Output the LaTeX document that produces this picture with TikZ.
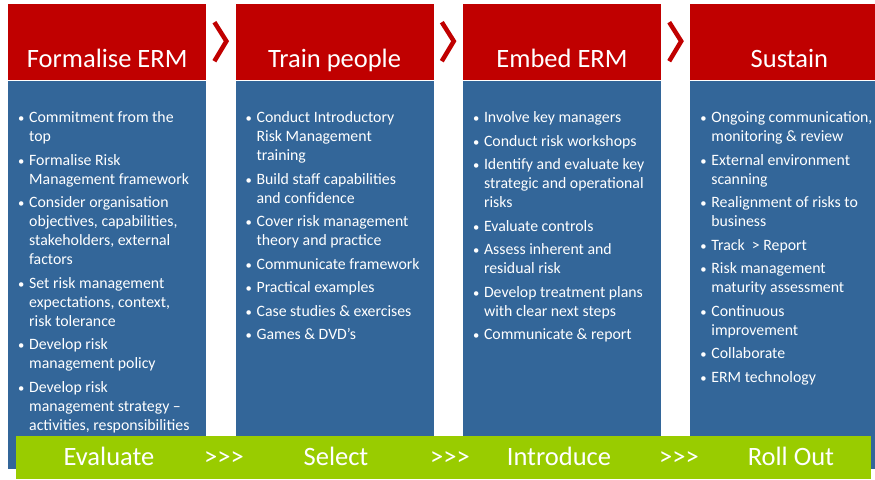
\documentclass[tikz,border=0pt]{standalone}
\usepackage{fontspec}
\setmainfont{Carlito}
\usetikzlibrary{positioning,calc}

\definecolor{hdred}{HTML}{C00000}
\definecolor{bdblue}{HTML}{336699}
\definecolor{bargreen}{HTML}{99CC00}

\newcommand{\bul}{\strut\makebox[12pt][l]{\hspace{1pt}\scalebox{0.8}{\textbullet}}}
\newcommand{\ind}{\strut\makebox[12pt]{}}

\begin{document}
\begin{tikzpicture}[x=1pt,y=1pt,node distance=29pt,
    head/.style={fill=hdred,minimum width=198pt,minimum height=76pt,inner sep=0pt},
    body/.style={fill=bdblue,minimum width=198pt,minimum height=388pt,inner sep=0pt},
    title/.style={white,font=\fontsize{26.5}{30}\selectfont,anchor=base,inner sep=0pt},
    items/.style={white,font=\fontsize{15.8}{19}\selectfont,align=left,anchor=north west,inner sep=0pt},
    stage/.style={white,font=\fontsize{26.5}{30}\selectfont,anchor=base,inner sep=0pt},
    chev/.style={hdred,line width=4.5pt,miter limit=10}]
  \useasboundingbox (0,0) rectangle (875,479);

  \node[head,anchor=north west] (head1) at (8,475) {};
  \node[head] (head2) [right=of head1] {};
  \node[head] (head3) [right=of head2] {};
  \node[head] (head4) [right=of head3] {};

  \node[body,below=0pt of head1] (body1) {};
  \node[body,below=0pt of head2] (body2) {};
  \node[body,below=0pt of head3] (body3) {};
  \node[body,below=0pt of head4] (body4) {};

  \node[title] (t1) at ([yshift=13pt]head1.south) {Formalise ERM};
  \node[title] (t2) at ([yshift=13pt]head2.south) {Train people};
  \node[title] (t3) at ([yshift=13pt]head3.south) {Embed ERM};
  \node[title] (t4) at ([yshift=13pt]head4.south) {Sustain};

  % chevrons between the headers
  \draw[chev] ([xshift=8pt,yshift=20pt]head1.east) -- ([xshift=20pt,yshift=1pt]head1.east) -- ([xshift=8pt,yshift=-19pt]head1.east);
  \draw[chev] ([xshift=8pt,yshift=20pt]head2.east) -- ([xshift=20pt,yshift=1pt]head2.east) -- ([xshift=8pt,yshift=-19pt]head2.east);
  \draw[chev] ([xshift=8pt,yshift=20pt]head3.east) -- ([xshift=20pt,yshift=1pt]head3.east) -- ([xshift=8pt,yshift=-19pt]head3.east);

  % bullet lists
  \node[items] (l1) at ([xshift=9pt,yshift=-29pt]body1.north west) {%
    \bul Commitment from the\\ \ind top\\[4.5pt]
    \bul Formalise Risk\\ \ind Management framework\\[4.5pt]
    \bul Consider organisation\\ \ind objectives, capabilities,\\ \ind stakeholders, external\\ \ind factors\\[4.5pt]
    \bul Set risk management\\ \ind expectations, context,\\ \ind risk tolerance\\[4.5pt]
    \bul Develop risk\\ \ind management policy\\[4.5pt]
    \bul Develop risk\\ \ind management strategy --\\ \ind activities, responsibilities};
  \node[items] (l2) at ([xshift=9pt,yshift=-29pt]body2.north west) {%
    \bul Conduct Introductory\\ \ind Risk Management\\ \ind training\\[4.5pt]
    \bul Build staff capabilities\\ \ind and confidence\\[4.5pt]
    \bul Cover risk management\\ \ind theory and practice\\[4.5pt]
    \bul Communicate framework\\[4.5pt]
    \bul Practical examples\\[4.5pt]
    \bul Case studies \& exercises\\[4.5pt]
    \bul Games \& DVD’s};
  \node[items] (l3) at ([xshift=9pt,yshift=-29pt]body3.north west) {%
    \bul Involve key managers\\[4.5pt]
    \bul Conduct risk workshops\\[4.5pt]
    \bul Identify and evaluate key\\ \ind strategic and operational\\ \ind risks\\[4.5pt]
    \bul Evaluate controls\\[4.5pt]
    \bul Assess inherent and\\ \ind residual risk\\[4.5pt]
    \bul Develop treatment plans\\ \ind with clear next steps\\[4.5pt]
    \bul Communicate \& report};
  \node[items] (l4) at ([xshift=9pt,yshift=-29pt]body4.north west) {%
    \bul Ongoing communication,\\ \ind monitoring \& review\\[4.5pt]
    \bul External environment\\ \ind scanning\\[4.5pt]
    \bul Realignment of risks to\\ \ind business\\[4.5pt]
    \bul Track \ > Report\\[4.5pt]
    \bul Risk management\\ \ind maturity assessment\\[4.5pt]
    \bul Continuous\\ \ind improvement\\[4.5pt]
    \bul Collaborate\\[4.5pt]
    \bul ERM technology};

  % green bar
  \node[fill=bargreen,minimum width=855pt,minimum height=43pt,inner sep=0pt,anchor=south west] (bar) at (16,0) {};
  \node[stage] (s1) at (109,13) {Evaluate};
  \node[stage] (g1) at (224,13) {>{}>{}>};
  \node[stage] (s2) at (336,13) {Select};
  \node[stage] (g2) at (450,13) {>{}>{}>};
  \node[stage] (s3) at (559,13) {Introduce};
  \node[stage] (g3) at (679,13) {>{}>{}>};
  \node[stage] (s4) at (791,13) {Roll Out};
\end{tikzpicture}
\end{document}
